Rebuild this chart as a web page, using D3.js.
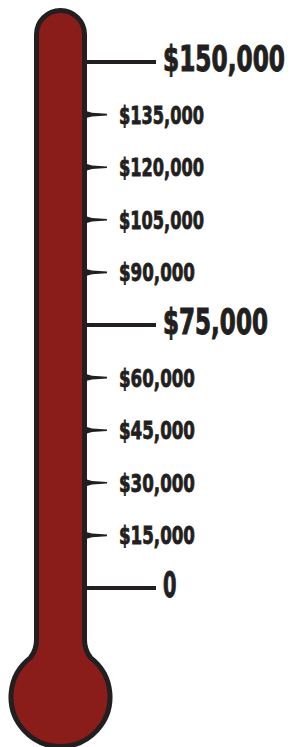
<!DOCTYPE html>
<html>
<head>
<meta charset="utf-8">
<script src="https://cdn.jsdelivr.net/npm/d3@7"></script>
<style>
  html, body { margin: 0; padding: 0; background: #fff; }
  svg { display: block; }
</style>
</head>
<body>
<svg class="thermo" width="291" height="747"></svg>
<script>
// goal ticks, bottom to top
let tickValues = [0, 15000, 30000, 45000, 60000, 75000, 90000, 105000, 120000, 135000, 150000];
let tickLabels = ['0', '$15,000', '$30,000', '$45,000', '$60,000', '$75,000', '$90,000', '$105,000', '$120,000', '$135,000', '$150,000'];
let majorTicks = [0, 75000, 150000];

let red = '#8a1d19';
let ink = '#231f20';

let y = d3.scaleLinear()
  .domain([0, 150000])
  .range([588, 62]);

let svg = d3.select('svg.thermo');

// thermometer body (stroke centre coords)
let cx = 60.5;
let hw = 24;        // half width of tube
let topY = 34.5;
let bulbY = 697;
let bulbR = 49.5;
let neckY = 640;
let dx = 30;
let joinY = bulbY - Math.sqrt(bulbR * bulbR - dx * dx);
let ctrlY = joinY - (dx - hw) * Math.sqrt(bulbR * bulbR - dx * dx) / dx;

let p = d3.path();
p.moveTo(cx - hw, topY);
p.arc(cx, topY, hw, Math.PI, 0);
p.lineTo(cx + hw, neckY);
p.quadraticCurveTo(cx + hw, ctrlY, cx + dx, joinY);
let a0 = Math.atan2(joinY - bulbY, dx);
let a1 = Math.atan2(joinY - bulbY, -dx);
p.arc(cx, bulbY, bulbR, a0, a1);
p.quadraticCurveTo(cx - hw, ctrlY, cx - hw, neckY);
p.closePath();

svg.append('path')
  .attr('d', p.toString())
  .style('fill', red)
  .style('stroke', ink)
  .style('stroke-width', '5px')
  .style('stroke-linejoin', 'round');

let tickData = tickValues.map((d, i) => ({value: d, label: tickLabels[i], major: majorTicks.includes(d)}));

// major ticks: long line
svg.selectAll('line.major')
  .data(tickData.filter(d => d.major))
  .enter()
  .append('line')
  .attr('class', 'major')
  .attr('x1', 86)
  .attr('x2', 156)
  .attr('y1', d => y(d.value))
  .attr('y2', d => y(d.value))
  .style('stroke', ink)
  .style('stroke-width', '4px');

// minor ticks: small spike
svg.selectAll('path.minor')
  .data(tickData.filter(d => !d.major))
  .enter()
  .append('path')
  .attr('class', 'minor')
  .attr('d', d => {
    let ty = y(d.value);
    return `M86,${ty - 3.5}L92,${ty - 1.8}L107,${ty - 0.8}L107,${ty + 0.8}L92,${ty + 1.8}L86,${ty + 3.5}Z`;
  })
  .style('fill', ink);

// labels, squeezed horizontally to a condensed look
let majorWidth = {'0': 13.5, '$75,000': 105, '$150,000': 122};

svg.selectAll('text.label')
  .data(tickData)
  .enter()
  .append('text')
  .attr('class', 'label')
  .style('font-family', '"DejaVu Sans Condensed", "Liberation Sans Narrow", sans-serif')
  .style('font-weight', 'bold')
  .style('font-size', d => d.major ? '35px' : '25px')
  .style('fill', ink)
  .style('stroke', ink)
  .style('stroke-width', d => d.major ? '1px' : '0.8px')
  .text(d => d.label)
  .each(function(d) {
    let natural = this.getComputedTextLength();
    let target = d.major ? majorWidth[d.label] : (d.label.length == 8 ? 85 : 76);
    let tx = d.major ? 163 : 119;
    let ty = y(d.value) + (d.major ? 8.5 : 9);
    d3.select(this).attr('transform', `translate(${tx},${ty}) scale(${target / natural},1)`);
  });
</script>
</body>
</html>
